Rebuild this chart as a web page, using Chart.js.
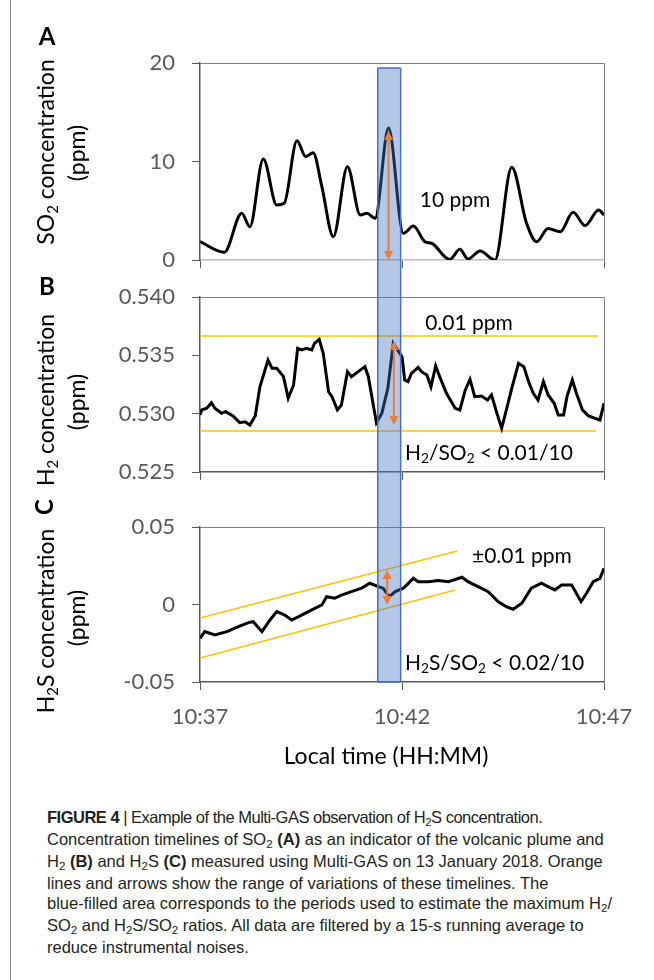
<!DOCTYPE html>
<html>
<head>
<meta charset="utf-8">
<script src="https://cdn.jsdelivr.net/npm/chart.js@4.4.1/dist/chart.umd.min.js"></script>
<style>
  html, body { margin: 0; padding: 0; background: #fff; }
  body { width: 654px; height: 980px; position: relative; overflow: hidden; }
  .panel { position: absolute; left: 0; }
  #frame { position: absolute; left: 10px; top: 0; width: 1px; height: 980px; background: #8a8a8a; }
  #caption { position: absolute; left: 47px; top: 807px; font-family: "Liberation Sans Narrow", "Liberation Sans", sans-serif;
             font-size: 16.5px; line-height: 20px; color: #231f20; white-space: nowrap; }
  #caption sub { font-size: 0.7em; vertical-align: baseline; position: relative; top: 0.25em; }
  #caption .tight { letter-spacing: -0.5px; }
</style>
</head>
<body>
<div id="frame"></div>
<canvas id="chartA" class="panel" width="654" height="300" style="top:0"></canvas>
<canvas id="chartB" class="panel" width="654" height="258" style="top:262px"></canvas>
<canvas id="chartC" class="panel" width="654" height="288" style="top:492px"></canvas>
<div id="caption">
<span class="tight"><b>FIGURE 4</b> | Example of the Multi-GAS observation of H<sub>2</sub>S concentration.</span><br>
Concentration timelines of SO<sub>2</sub> <b>(A)</b> as an indicator of the volcanic plume and<br>
H<sub>2</sub> <b>(B)</b> and H<sub>2</sub>S <b>(C)</b> measured using Multi-GAS on 13 January 2018. Orange<br>
lines and arrows show the range of variations of these timelines. The<br>
blue-filled area corresponds to the periods used to estimate the maximum H<sub>2</sub>/<br>
SO<sub>2</sub> and H<sub>2</sub>S/SO<sub>2</sub> ratios. All data are filtered by a 15-s running average to<br>
reduce instrumental noises.
</div>
<script>
// time axis: seconds after 10:37
const timeTicks = [0, 300, 600];
const timeLabels = ['10:37', '10:42', '10:47'];
const bandStart = 264;
const bandEnd = 298;

// SO2 (ppm)
const so2Time = [0, 36, 62, 74, 94, 114, 125, 144, 157, 168, 181, 198, 219, 238, 248, 260, 280, 302, 317, 334, 344,
  371, 386, 398, 416, 438, 463, 485, 500, 517, 535, 554, 572, 592, 600];
const so2Value = [1.86, 0.78, 4.74, 3.38, 10.25, 5.58, 5.75, 12.1, 10.5, 10.9, 7.44, 2.37, 9.47, 4.57, 4.74, 4.23, 13.4,
  2.71, 3.45, 1.86, 1.7, 0.05, 1.08, 0.1, 0.91, 0.0, 9.41, 3.72, 1.86, 3.21, 2.87, 4.84, 3.49, 5.08, 4.57];
const so2Ticks = [0, 10, 20];
const so2TickLabels = ['0', '10', '20'];

// H2 (ppm)
const h2Time = [0, 2.5, 10, 17, 22, 32, 38, 49, 59, 67, 74, 82, 89, 101, 107, 114, 124, 131, 139, 145, 151, 158, 166,
  170, 177, 183, 191, 196, 204, 210, 219, 225, 235, 245, 250, 262, 270, 279, 287, 300, 304, 309, 314, 324, 329, 337,
  343, 350, 356, 366, 379, 386, 394, 401, 408, 418, 427, 433, 441, 448, 455, 463, 473, 481, 488, 495, 502, 510, 517,
  526, 532, 540, 545, 553, 559, 568, 577, 587, 594, 600];
const h2Value = [0.52989, 0.53032, 0.53046, 0.53094, 0.53046, 0.53003, 0.53017, 0.52980, 0.52923, 0.52931, 0.52903,
  0.52980, 0.53231, 0.53460, 0.53389, 0.53389, 0.53317, 0.53132, 0.53246, 0.53560, 0.53546, 0.53560, 0.53546, 0.53603,
  0.53637, 0.53517, 0.53188, 0.53146, 0.53032, 0.53074, 0.53360, 0.53317, 0.53360, 0.53403, 0.53317, 0.52923, 0.53003,
  0.53217, 0.53603, 0.53488, 0.53289, 0.53274, 0.53346, 0.53397, 0.53360, 0.53331, 0.53231, 0.53409, 0.53317, 0.53175,
  0.53046, 0.53032, 0.53203, 0.53294, 0.53146, 0.53152, 0.53117, 0.53160, 0.53003, 0.52875, 0.53032, 0.53217, 0.53432,
  0.53403, 0.53274, 0.53175, 0.53117, 0.53274, 0.53160, 0.53089, 0.52989, 0.52989, 0.53146, 0.53289, 0.53175, 0.53032,
  0.52980, 0.52960, 0.52946, 0.53089];
const h2Ticks = [0.525, 0.530, 0.535, 0.540];
const h2TickLabels = ['0.525', '0.530', '0.535', '0.540'];
const h2UpperTime = [0, 591];
const h2Upper = [0.53666, 0.53666];
const h2LowerTime = [0, 588];
const h2Lower = [0.52851, 0.52851];

// H2S (ppm)
const h2sTime = [0, 7, 22, 40, 57, 72, 79, 92, 104, 114, 126, 136, 151, 166, 181, 188, 200, 210, 225, 240, 252, 265,
  272, 281, 290, 302, 317, 324, 339, 354, 369, 389, 398, 413, 428, 443, 455, 465, 478, 492, 507, 517, 527, 537, 552,
  566, 574, 584, 594, 600];
const h2sValue = [-0.0218, -0.0175, -0.0197, -0.0175, -0.0143, -0.0117, -0.0111, -0.0175, -0.0100, -0.0046, -0.0068,
  -0.0100, -0.0068, -0.0035, -0.0003, 0.0050, 0.0040, 0.0061, 0.0083, 0.0105, 0.0137, 0.0115, 0.0105, 0.0050, 0.0083,
  0.0105, 0.0169, 0.0147, 0.0147, 0.0154, 0.0147, 0.0176, 0.0147, 0.0115, 0.0083, 0.0018, -0.0014, -0.0031, 0.0008,
  0.0105, 0.0137, 0.0115, 0.0094, 0.0126, 0.0126, 0.0018, 0.0072, 0.0147, 0.0169, 0.0234];
const h2sTicks = [-0.05, 0, 0.05];
const h2sTickLabels = ['-0.05', '0', '0.05'];
const h2sUpperTime = [0, 382];
const h2sUpper = [-0.0087, 0.0345];
const h2sLowerTime = [0, 379];
const h2sLower = [-0.0345, 0.0094];

// range arrows, one per panel (A, B, C)
const arrowTime = [280, 288, 278];
const arrowTop = [13.1, 0.53623, 0.0223];
const arrowBottom = [0, 0.52903, -0.0003];

Chart.defaults.font.family = 'Lato';

const pts = (xs, ys) => xs.map((x, i) => ({ x: x, y: ys[i] }));

function drawRich(ctx, t, top) {
  const size = t.size;
  const parts = t.segs.map(s => {
    const sub = s[1] === 'sub';
    const font = (t.bold ? 'bold ' : '') + (sub ? size * 0.65 : size) + 'px Lato';
    ctx.font = font;
    return { text: s[0], font: font, w: ctx.measureText(s[0]).width, dy: sub ? size * 0.28 : 0 };
  });
  const total = parts.reduce((a, p) => a + p.w, 0);
  ctx.save();
  ctx.translate(t.x, t.y - top);
  if (t.rot) ctx.rotate(-Math.PI / 2);
  let x = t.align === 'left' ? 0 : -total / 2;
  ctx.fillStyle = t.color || '#000';
  ctx.textBaseline = 'middle';
  ctx.textAlign = 'left';
  parts.forEach(p => { ctx.font = p.font; ctx.fillText(p.text, x, p.dy); x += p.w; });
  ctx.restore();
}

function drawArrow(ctx, x, y0, y1) {
  const h = 9, w = 4.5;
  ctx.strokeStyle = '#ED7D31';
  ctx.fillStyle = '#ED7D31';
  ctx.lineWidth = 2;
  ctx.beginPath();
  ctx.moveTo(x, y0 + h - 1);
  ctx.lineTo(x, y1 - h + 1);
  ctx.stroke();
  ctx.beginPath();
  ctx.moveTo(x, y0); ctx.lineTo(x - w, y0 + h); ctx.lineTo(x + w, y0 + h); ctx.closePath();
  ctx.moveTo(x, y1); ctx.lineTo(x - w, y1 - h); ctx.lineTo(x + w, y1 - h); ctx.closePath();
  ctx.fill();
}

// per-panel overlay settings (page coordinates for text and band joins)
const overlays = {
  chartA: {
    top: 0, arrow: 0, bandFrom: 19.5, bandToPage: 272,
    texts: [
      { segs: [['A']], x: 47, y: 37, size: 24, bold: true },
      { segs: [['SO'], ['2', 'sub'], [' concentration']], x: 47, y: 152, size: 23, rot: true },
      { segs: [['(ppm)']], x: 78, y: 153, size: 23, rot: true },
      { segs: [['10 ppm']], x: 455, y: 200, size: 21 }
    ]
  },
  chartB: {
    top: 262, arrow: 1, bandFromPage: 272, bandToPage: 492,
    texts: [
      { segs: [['B']], x: 47, y: 287, size: 24, bold: true },
      { segs: [['H'], ['2', 'sub'], [' concentration']], x: 47, y: 400, size: 23, rot: true },
      { segs: [['(ppm)']], x: 78, y: 402, size: 23, rot: true },
      { segs: [['0.01 ppm']], x: 469, y: 323, size: 21 },
      { segs: [['H'], ['2', 'sub'], ['/SO'], ['2', 'sub'], [' < 0.01/10']], x: 405, y: 453, size: 21, align: 'left' }
    ]
  },
  chartC: {
    top: 492, arrow: 2, bandFromPage: 492, bandTo: -0.05,
    texts: [
      { segs: [['C']], x: 45, y: 507, size: 24, bold: true, rot: true },
      { segs: [['H'], ['2', 'sub'], ['S concentration']], x: 47, y: 621, size: 23, rot: true },
      { segs: [['(ppm)']], x: 78, y: 618, size: 23, rot: true },
      { segs: [['\u00b10.01 ppm']], x: 472, y: 556, size: 21, align: 'left' },
      { segs: [['H'], ['2', 'sub'], ['S/SO'], ['2', 'sub'], [' < 0.02/10']], x: 405, y: 663, size: 21, align: 'left' },
      { segs: [['Local time (HH:MM)']], x: 386, y: 757, size: 23 }
    ]
  }
};

const overlay = {
  id: 'overlay',
  afterDatasetsDraw(chart) {
    const o = overlays[chart.canvas.id];
    const ctx = chart.ctx, a = chart.chartArea;
    const xs = chart.scales.x, ys = chart.scales.y;
    ctx.save();
    // plot frame (top and right)
    ctx.strokeStyle = '#7f7f7f';
    ctx.lineWidth = 1;
    ctx.beginPath();
    ctx.moveTo(a.left, Math.round(a.top) + 0.5);
    ctx.lineTo(Math.round(a.right) + 0.5, Math.round(a.top) + 0.5);
    ctx.lineTo(Math.round(a.right) + 0.5, a.bottom);
    ctx.stroke();
    // blue period
    const bx0 = xs.getPixelForValue(bandStart), bx1 = xs.getPixelForValue(bandEnd);
    const by0 = o.bandFrom != null ? ys.getPixelForValue(o.bandFrom) : o.bandFromPage - o.top;
    const by1 = o.bandTo != null ? ys.getPixelForValue(o.bandTo) : o.bandToPage - o.top;
    ctx.fillStyle = 'rgba(68,114,196,0.4)';
    ctx.fillRect(bx0, by0, bx1 - bx0, by1 - by0);
    ctx.strokeStyle = '#4472C4';
    ctx.lineWidth = 1.5;
    ctx.beginPath();
    ctx.moveTo(bx0, by0); ctx.lineTo(bx0, by1);
    ctx.moveTo(bx1, by0); ctx.lineTo(bx1, by1);
    if (o.bandFrom != null) { ctx.moveTo(bx0, by0); ctx.lineTo(bx1, by0); }
    if (o.bandTo != null) { ctx.moveTo(bx0, by1); ctx.lineTo(bx1, by1); }
    ctx.stroke();
    // arrow
    const i = o.arrow;
    drawArrow(ctx, xs.getPixelForValue(arrowTime[i]), ys.getPixelForValue(arrowTop[i]), ys.getPixelForValue(arrowBottom[i]));
    o.texts.forEach(t => drawRich(ctx, t, o.top));
    ctx.restore();
  }
};

function makePanel(id, cfg) {
  return new Chart(document.getElementById(id), {
    type: 'line',
    data: { datasets: cfg.datasets },
    options: {
      responsive: false,
      animation: false,
      events: [],
      layout: { padding: cfg.padding },
      plugins: { legend: { display: false }, tooltip: { enabled: false } },
      elements: { point: { radius: 0 } },
      scales: {
        x: {
          type: 'linear', min: 0, max: 600,
          afterBuildTicks: s => { s.ticks = timeTicks.map(v => ({ value: v })); },
          afterFit: s => { s.height = cfg.xHeight; },
          grid: { drawOnChartArea: false, drawTicks: true, tickLength: 8, color: '#595959' },
          border: { color: cfg.xBorder, width: 1.5 },
          ticks: {
            display: cfg.showTime, padding: 14, color: '#595959', font: { size: 22 }, maxRotation: 0,
            callback: v => timeLabels[timeTicks.indexOf(v)]
          }
        },
        y: {
          type: 'linear', min: cfg.yTicks[0], max: cfg.yTicks[cfg.yTicks.length - 1],
          afterBuildTicks: s => { s.ticks = cfg.yTicks.map(v => ({ value: v })); },
          afterFit: s => { s.width = 200; },
          grid: { drawOnChartArea: false, drawTicks: true, tickLength: 8, color: '#595959' },
          border: { color: '#595959', width: 1.5 },
          ticks: {
            padding: 17, color: '#595959', font: { size: 22 },
            callback: v => cfg.yLabels[cfg.yTicks.indexOf(v)]
          }
        }
      }
    },
    plugins: [overlay]
  });
}

makePanel('chartA', {
  padding: { left: 0, right: 50, top: 63, bottom: 28 },
  xHeight: 12, xBorder: '#bfbfbf', showTime: false,
  yTicks: so2Ticks, yLabels: so2TickLabels,
  datasets: [{
    data: pts(so2Time, so2Value), borderColor: '#000', borderWidth: 3,
    cubicInterpolationMode: 'monotone'
  }]
});

makePanel('chartB', {
  padding: { left: 0, right: 50, top: 35, bottom: 36 },
  xHeight: 12, xBorder: '#595959', showTime: false,
  yTicks: h2Ticks, yLabels: h2TickLabels,
  datasets: [
    { data: pts(h2Time, h2Value), borderColor: '#000', borderWidth: 3, tension: 0 },
    { data: pts(h2UpperTime, h2Upper), borderColor: '#FFC000', borderWidth: 1.5, tension: 0 },
    { data: pts(h2LowerTime, h2Lower), borderColor: '#FFC000', borderWidth: 1.5, tension: 0 }
  ]
});

makePanel('chartC', {
  padding: { left: 0, right: 50, top: 35, bottom: 38 },
  xHeight: 60, xBorder: '#595959', showTime: true,
  yTicks: h2sTicks, yLabels: h2sTickLabels,
  datasets: [
    { data: pts(h2sTime, h2sValue), borderColor: '#000', borderWidth: 3, tension: 0 },
    { data: pts(h2sUpperTime, h2sUpper), borderColor: '#FFC000', borderWidth: 1.5, tension: 0 },
    { data: pts(h2sLowerTime, h2sLower), borderColor: '#FFC000', borderWidth: 1.5, tension: 0 }
  ]
});
</script>
</body>
</html>
